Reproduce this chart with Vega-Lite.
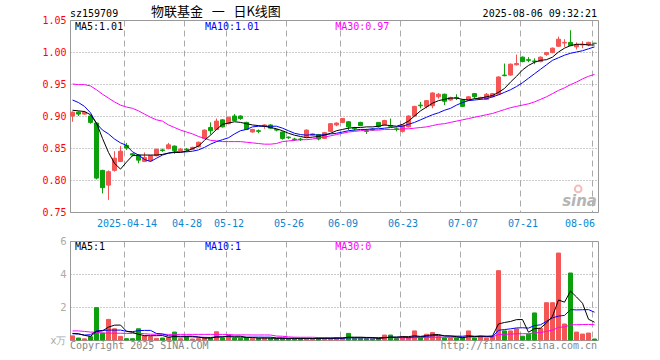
{
  "$schema": "https://vega.github.io/schema/vega-lite/v6.json",
  "autosize": {"type": "none"},
  "padding": {"left": 70, "top": 20, "right": 590, "bottom": 340},
  "background": "white",
  "bounds": "flush",
  "spacing": 29,
  "config": {
    "view": {"stroke": "#999999", "strokeWidth": 1},
    "axis": {"labelFont": "DejaVu Sans Mono", "labelFontSize": 10, "domain": false, "ticks": false, "title": null},
    "axisY": {"grid": true, "gridColor": "#999999", "gridDash": [1, 2], "gridWidth": 1, "labelPadding": 4, "labelOverlap": false, "tickCount": 12}
  },
  "datasets": {
    "k": [
      {"d":"2025-03-31","o":0.900,"h":0.907,"l":0.891,"c":0.906,"v":0.25,"m5":0.909,"m10":0.925,"m30":0.950,"vm5":0.40,"vm10":0.38,"vm30":0.55},
      {"d":"2025-04-01","o":0.906,"h":0.907,"l":0.900,"c":0.903,"v":0.12,"m5":0.908,"m10":0.921,"m30":0.949,"vm5":0.38,"vm10":0.36,"vm30":0.55},
      {"d":"2025-04-02","o":0.903,"h":0.908,"l":0.902,"c":0.906,"v":0.07,"m5":0.907,"m10":0.915,"m30":0.949,"vm5":0.28,"vm10":0.30,"vm30":0.52},
      {"d":"2025-04-03","o":0.900,"h":0.901,"l":0.888,"c":0.890,"v":0.20,"m5":0.902,"m10":0.905,"m30":0.947,"vm5":0.22,"vm10":0.32,"vm30":0.48},
      {"d":"2025-04-07","o":0.889,"h":0.889,"l":0.801,"c":0.803,"v":1.96,"m5":0.889,"m10":0.888,"m30":0.941,"vm5":0.52,"vm10":0.55,"vm30":0.47},
      {"d":"2025-04-08","o":0.815,"h":0.816,"l":0.779,"c":0.788,"v":0.42,"m5":0.865,"m10":0.878,"m30":0.934,"vm5":0.554,"vm10":0.58,"vm30":0.42},
      {"d":"2025-04-09","o":0.792,"h":0.815,"l":0.769,"c":0.813,"v":1.25,"m5":0.843,"m10":0.872,"m30":0.928,"vm5":0.78,"vm10":0.60,"vm30":0.42},
      {"d":"2025-04-10","o":0.815,"h":0.845,"l":0.813,"c":0.834,"v":0.68,"m5":0.826,"m10":0.864,"m30":0.922,"vm5":0.90,"vm10":0.60,"vm30":0.41},
      {"d":"2025-04-11","o":0.829,"h":0.853,"l":0.828,"c":0.845,"v":0.22,"m5":0.817,"m10":0.858,"m30":0.917,"vm5":0.906,"vm10":0.60,"vm30":0.41},
      {"d":"2025-04-14","o":0.854,"h":0.858,"l":0.847,"c":0.850,"v":0.08,"m5":0.828,"m10":0.854,"m30":0.914,"vm5":0.53,"vm10":0.525,"vm30":0.40},
      {"d":"2025-04-15","o":0.841,"h":0.842,"l":0.837,"c":0.839,"v":0.08,"m5":0.838,"m10":0.844,"m30":0.912,"vm5":0.462,"vm10":0.508,"vm30":0.40},
      {"d":"2025-04-16","o":0.839,"h":0.840,"l":0.826,"c":0.831,"v":0.68,"m5":0.839,"m10":0.839,"m30":0.908,"vm5":0.348,"vm10":0.564,"vm30":0.40},
      {"d":"2025-04-17","o":0.829,"h":0.843,"l":0.828,"c":0.835,"v":0.25,"m5":0.839,"m10":0.832,"m30":0.903,"vm5":0.262,"vm10":0.582,"vm30":0.38},
      {"d":"2025-04-18","o":0.830,"h":0.839,"l":0.829,"c":0.838,"v":0.20,"m5":0.839,"m10":0.829,"m30":0.898,"vm5":0.258,"vm10":0.582,"vm30":0.35},
      {"d":"2025-04-21","o":0.838,"h":0.849,"l":0.837,"c":0.848,"v":0.10,"m5":0.839,"m10":0.834,"m30":0.894,"vm5":0.262,"vm10":0.396,"vm30":0.35},
      {"d":"2025-04-22","o":0.847,"h":0.849,"l":0.844,"c":0.846,"v":0.12,"m5":0.840,"m10":0.839,"m30":0.892,"vm5":0.27,"vm10":0.366,"vm30":0.35},
      {"d":"2025-04-23","o":0.849,"h":0.858,"l":0.848,"c":0.855,"v":0.15,"m5":0.842,"m10":0.842,"m30":0.886,"vm5":0.164,"vm10":0.256,"vm30":0.34},
      {"d":"2025-04-24","o":0.853,"h":0.854,"l":0.841,"c":0.846,"v":0.48,"m5":0.843,"m10":0.844,"m30":0.882,"vm5":0.21,"vm10":0.236,"vm30":0.34},
      {"d":"2025-04-25","o":0.846,"h":0.850,"l":0.845,"c":0.848,"v":0.08,"m5":0.843,"m10":0.844,"m30":0.878,"vm5":0.186,"vm10":0.222,"vm30":0.34},
      {"d":"2025-04-28","o":0.848,"h":0.850,"l":0.845,"c":0.847,"v":0.20,"m5":0.845,"m10":0.844,"m30":0.875,"vm5":0.206,"vm10":0.234,"vm30":0.34},
      {"d":"2025-04-29","o":0.848,"h":0.852,"l":0.847,"c":0.851,"v":0.06,"m5":0.849,"m10":0.845,"m30":0.872,"vm5":0.194,"vm10":0.232,"vm30":0.34},
      {"d":"2025-04-30","o":0.852,"h":0.860,"l":0.851,"c":0.859,"v":0.08,"m5":0.853,"m10":0.847,"m30":0.868,"vm5":0.18,"vm10":0.172,"vm30":0.34},
      {"d":"2025-05-06","o":0.865,"h":0.879,"l":0.864,"c":0.878,"v":0.15,"m5":0.862,"m10":0.851,"m30":0.865,"vm5":0.114,"vm10":0.162,"vm30":0.34},
      {"d":"2025-05-07","o":0.882,"h":0.890,"l":0.871,"c":0.877,"v":0.10,"m5":0.870,"m10":0.856,"m30":0.862,"vm5":0.118,"vm10":0.152,"vm30":0.34},
      {"d":"2025-05-08","o":0.879,"h":0.896,"l":0.878,"c":0.892,"v":0.50,"m5":0.879,"m10":0.860,"m30":0.861,"vm5":0.178,"vm10":0.192,"vm30":0.34},
      {"d":"2025-05-09","o":0.894,"h":0.895,"l":0.882,"c":0.883,"v":0.12,"m5":0.887,"m10":0.863,"m30":0.860,"vm5":0.19,"vm10":0.192,"vm30":0.34},
      {"d":"2025-05-12","o":0.888,"h":0.899,"l":0.887,"c":0.898,"v":0.30,"m5":0.889,"m10":0.866,"m30":0.860,"vm5":0.234,"vm10":0.207,"vm30":0.33},
      {"d":"2025-05-13","o":0.900,"h":0.903,"l":0.892,"c":0.893,"v":0.12,"m5":0.891,"m10":0.872,"m30":0.860,"vm5":0.228,"vm10":0.171,"vm30":0.31},
      {"d":"2025-05-14","o":0.900,"h":0.901,"l":0.894,"c":0.896,"v":0.10,"m5":0.890,"m10":0.877,"m30":0.860,"vm5":0.228,"vm10":0.173,"vm30":0.31},
      {"d":"2025-05-15","o":0.890,"h":0.891,"l":0.878,"c":0.879,"v":0.15,"m5":0.888,"m10":0.879,"m30":0.859,"vm5":0.158,"vm10":0.168,"vm30":0.309},
      {"d":"2025-05-16","o":0.875,"h":0.880,"l":0.874,"c":0.879,"v":0.10,"m5":0.886,"m10":0.883,"m30":0.858,"vm5":0.154,"vm10":0.172,"vm30":0.304},
      {"d":"2025-05-19","o":0.877,"h":0.879,"l":0.873,"c":0.876,"v":0.10,"m5":0.885,"m10":0.884,"m30":0.857,"vm5":0.114,"vm10":0.174,"vm30":0.303},
      {"d":"2025-05-20","o":0.884,"h":0.887,"l":0.880,"c":0.886,"v":0.12,"m5":0.884,"m10":0.884,"m30":0.856,"vm5":0.114,"vm10":0.171,"vm30":0.305},
      {"d":"2025-05-21","o":0.886,"h":0.887,"l":0.880,"c":0.881,"v":0.10,"m5":0.882,"m10":0.884,"m30":0.856,"vm5":0.114,"vm10":0.171,"vm30":0.302},
      {"d":"2025-05-22","o":0.879,"h":0.880,"l":0.876,"c":0.878,"v":0.08,"m5":0.880,"m10":0.884,"m30":0.857,"vm5":0.10,"vm10":0.129,"vm30":0.239},
      {"d":"2025-05-23","o":0.875,"h":0.876,"l":0.863,"c":0.865,"v":0.10,"m5":0.877,"m10":0.881,"m30":0.860,"vm5":0.10,"vm10":0.127,"vm30":0.228},
      {"d":"2025-05-26","o":0.867,"h":0.868,"l":0.864,"c":0.866,"v":0.08,"m5":0.873,"m10":0.877,"m30":0.861,"vm5":0.096,"vm10":0.105,"vm30":0.189},
      {"d":"2025-05-27","o":0.864,"h":0.866,"l":0.861,"c":0.863,"v":0.10,"m5":0.870,"m10":0.873,"m30":0.862,"vm5":0.092,"vm10":0.103,"vm30":0.17},
      {"d":"2025-05-28","o":0.864,"h":0.866,"l":0.861,"c":0.863,"v":0.08,"m5":0.868,"m10":0.871,"m30":0.863,"vm5":0.088,"vm10":0.101,"vm30":0.165},
      {"d":"2025-05-29","o":0.867,"h":0.879,"l":0.866,"c":0.878,"v":0.10,"m5":0.866,"m10":0.870,"m30":0.863,"vm5":0.092,"vm10":0.096,"vm30":0.166},
      {"d":"2025-05-30","o":0.870,"h":0.873,"l":0.869,"c":0.872,"v":0.08,"m5":0.867,"m10":0.871,"m30":0.864,"vm5":0.088,"vm10":0.094,"vm30":0.166},
      {"d":"2025-06-03","o":0.871,"h":0.872,"l":0.862,"c":0.864,"v":0.12,"m5":0.868,"m10":0.870,"m30":0.866,"vm5":0.096,"vm10":0.096,"vm30":0.147},
      {"d":"2025-06-04","o":0.865,"h":0.875,"l":0.864,"c":0.874,"v":0.12,"m5":0.870,"m10":0.871,"m30":0.867,"vm5":0.10,"vm10":0.096,"vm30":0.143},
      {"d":"2025-06-05","o":0.876,"h":0.889,"l":0.875,"c":0.888,"v":0.10,"m5":0.873,"m10":0.872,"m30":0.869,"vm5":0.104,"vm10":0.096,"vm30":0.14},
      {"d":"2025-06-06","o":0.886,"h":0.890,"l":0.884,"c":0.889,"v":0.15,"m5":0.877,"m10":0.873,"m30":0.871,"vm5":0.114,"vm10":0.103,"vm30":0.141},
      {"d":"2025-06-09","o":0.890,"h":0.897,"l":0.889,"c":0.896,"v":0.10,"m5":0.879,"m10":0.875,"m30":0.873,"vm5":0.118,"vm10":0.103,"vm30":0.141},
      {"d":"2025-06-10","o":0.891,"h":0.892,"l":0.878,"c":0.883,"v":0.40,"m5":0.881,"m10":0.877,"m30":0.875,"vm5":0.174,"vm10":0.135,"vm30":0.149},
      {"d":"2025-06-11","o":0.881,"h":0.883,"l":0.877,"c":0.880,"v":0.10,"m5":0.882,"m10":0.878,"m30":0.876,"vm5":0.17,"vm10":0.135,"vm30":0.136},
      {"d":"2025-06-12","o":0.890,"h":0.891,"l":0.884,"c":0.885,"v":0.10,"m5":0.882,"m10":0.879,"m30":0.877,"vm5":0.17,"vm10":0.137,"vm30":0.137},
      {"d":"2025-06-13","o":0.877,"h":0.880,"l":0.872,"c":0.876,"v":0.08,"m5":0.883,"m10":0.879,"m30":0.878,"vm5":0.156,"vm10":0.135,"vm30":0.133},
      {"d":"2025-06-16","o":0.879,"h":0.881,"l":0.877,"c":0.878,"v":0.08,"m5":0.883,"m10":0.880,"m30":0.878,"vm5":0.152,"vm10":0.135,"vm30":0.134},
      {"d":"2025-06-17","o":0.890,"h":0.890,"l":0.882,"c":0.883,"v":0.10,"m5":0.884,"m10":0.880,"m30":0.878,"vm5":0.092,"vm10":0.133,"vm30":0.134},
      {"d":"2025-06-18","o":0.886,"h":0.894,"l":0.885,"c":0.893,"v":0.30,"m5":0.886,"m10":0.881,"m30":0.879,"vm5":0.132,"vm10":0.151,"vm30":0.139},
      {"d":"2025-06-19","o":0.885,"h":0.896,"l":0.883,"c":0.884,"v":0.30,"m5":0.885,"m10":0.882,"m30":0.879,"vm5":0.172,"vm10":0.171,"vm30":0.146},
      {"d":"2025-06-20","o":0.880,"h":0.882,"l":0.876,"c":0.879,"v":0.10,"m5":0.884,"m10":0.883,"m30":0.879,"vm5":0.176,"vm10":0.166,"vm30":0.133},
      {"d":"2025-06-23","o":0.876,"h":0.887,"l":0.874,"c":0.886,"v":0.20,"m5":0.887,"m10":0.884,"m30":0.880,"vm5":0.20,"vm10":0.176,"vm30":0.135},
      {"d":"2025-06-24","o":0.883,"h":0.901,"l":0.882,"c":0.900,"v":0.12,"m5":0.892,"m10":0.887,"m30":0.880,"vm5":0.204,"vm10":0.148,"vm30":0.129},
      {"d":"2025-06-25","o":0.900,"h":0.916,"l":0.899,"c":0.915,"v":0.55,"m5":0.900,"m10":0.890,"m30":0.881,"vm5":0.254,"vm10":0.193,"vm30":0.144},
      {"d":"2025-06-26","o":0.917,"h":0.922,"l":0.912,"c":0.916,"v":0.12,"m5":0.908,"m10":0.894,"m30":0.882,"vm5":0.218,"vm10":0.195,"vm30":0.144},
      {"d":"2025-06-27","o":0.915,"h":0.925,"l":0.912,"c":0.924,"v":0.35,"m5":0.914,"m10":0.898,"m30":0.883,"vm5":0.268,"vm10":0.222,"vm30":0.151},
      {"d":"2025-06-30","o":0.916,"h":0.937,"l":0.912,"c":0.936,"v":0.45,"m5":0.920,"m10":0.902,"m30":0.885,"vm5":0.318,"vm10":0.259,"vm30":0.163},
      {"d":"2025-07-01","o":0.930,"h":0.936,"l":0.927,"c":0.934,"v":0.20,"m5":0.924,"m10":0.905,"m30":0.887,"vm5":0.334,"vm10":0.269,"vm30":0.166},
      {"d":"2025-07-02","o":0.934,"h":0.935,"l":0.917,"c":0.923,"v":0.12,"m5":0.926,"m10":0.909,"m30":0.888,"vm5":0.248,"vm10":0.251,"vm30":0.166},
      {"d":"2025-07-03","o":0.925,"h":0.930,"l":0.924,"c":0.929,"v":0.12,"m5":0.928,"m10":0.912,"m30":0.890,"vm5":0.248,"vm10":0.233,"vm30":0.167},
      {"d":"2025-07-04","o":0.929,"h":0.934,"l":0.925,"c":0.928,"v":0.12,"m5":0.928,"m10":0.917,"m30":0.892,"vm5":0.202,"vm10":0.235,"vm30":0.168},
      {"d":"2025-07-07","o":0.925,"h":0.926,"l":0.914,"c":0.915,"v":0.12,"m5":0.926,"m10":0.921,"m30":0.894,"vm5":0.136,"vm10":0.227,"vm30":0.169},
      {"d":"2025-07-08","o":0.925,"h":0.931,"l":0.924,"c":0.930,"v":0.55,"m5":0.925,"m10":0.924,"m30":0.896,"vm5":0.206,"vm10":0.27,"vm30":0.184},
      {"d":"2025-07-09","o":0.935,"h":0.936,"l":0.927,"c":0.930,"v":0.12,"m5":0.927,"m10":0.925,"m30":0.898,"vm5":0.206,"vm10":0.227,"vm30":0.185},
      {"d":"2025-07-10","o":0.927,"h":0.930,"l":0.925,"c":0.929,"v":0.23,"m5":0.928,"m10":0.926,"m30":0.900,"vm5":0.228,"vm10":0.238,"vm30":0.19},
      {"d":"2025-07-11","o":0.926,"h":0.936,"l":0.925,"c":0.934,"v":0.12,"m5":0.930,"m10":0.927,"m30":0.902,"vm5":0.228,"vm10":0.215,"vm30":0.191},
      {"d":"2025-07-14","o":0.930,"h":0.936,"l":0.929,"c":0.935,"v":0.20,"m5":0.932,"m10":0.930,"m30":0.904,"vm5":0.244,"vm10":0.19,"vm30":0.195},
      {"d":"2025-07-15","o":0.934,"h":0.962,"l":0.933,"c":0.961,"v":4.20,"m5":0.937,"m10":0.933,"m30":0.907,"vm5":0.974,"vm10":0.59,"vm30":0.331},
      {"d":"2025-07-16","o":0.964,"h":0.982,"l":0.962,"c":0.963,"v":0.55,"m5":0.943,"m10":0.937,"m30":0.910,"vm5":1.06,"vm10":0.633,"vm30":0.345},
      {"d":"2025-07-17","o":0.964,"h":0.982,"l":0.963,"c":0.981,"v":0.55,"m5":0.953,"m10":0.941,"m30":0.913,"vm5":1.124,"vm10":0.676,"vm30":0.36},
      {"d":"2025-07-18","o":0.980,"h":0.996,"l":0.979,"c":0.982,"v":0.67,"m5":0.962,"m10":0.946,"m30":0.915,"vm5":1.234,"vm10":0.731,"vm30":0.377},
      {"d":"2025-07-21","o":0.992,"h":0.993,"l":0.984,"c":0.985,"v":0.23,"m5":0.972,"m10":0.952,"m30":0.917,"vm5":1.24,"vm10":0.742,"vm30":0.382},
      {"d":"2025-07-22","o":0.988,"h":0.992,"l":0.984,"c":0.987,"v":0.35,"m5":0.979,"m10":0.959,"m30":0.919,"vm5":0.47,"vm10":0.722,"vm30":0.38},
      {"d":"2025-07-23","o":0.986,"h":0.990,"l":0.981,"c":0.985,"v":1.64,"m5":0.984,"m10":0.966,"m30":0.922,"vm5":0.688,"vm10":0.874,"vm30":0.431},
      {"d":"2025-07-24","o":0.985,"h":0.993,"l":0.984,"c":0.992,"v":0.70,"m5":0.987,"m10":0.973,"m30":0.926,"vm5":0.718,"vm10":0.921,"vm30":0.451},
      {"d":"2025-07-25","o":0.996,"h":1.000,"l":0.994,"c":0.999,"v":2.26,"m5":0.988,"m10":0.980,"m30":0.930,"vm5":1.036,"vm10":1.135,"vm30":0.524},
      {"d":"2025-07-28","o":0.999,"h":1.007,"l":0.998,"c":1.006,"v":2.26,"m5":0.992,"m10":0.987,"m30":0.935,"vm5":1.442,"vm10":1.341,"vm30":0.597},
      {"d":"2025-07-29","o":1.009,"h":1.024,"l":1.008,"c":1.020,"v":5.27,"m5":1.000,"m10":0.991,"m30":0.940,"vm5":2.426,"vm10":1.448,"vm30":0.769},
      {"d":"2025-07-30","o":1.014,"h":1.020,"l":1.008,"c":1.015,"v":0.97,"m5":1.006,"m10":0.995,"m30":0.944,"vm5":2.292,"vm10":1.49,"vm30":0.791},
      {"d":"2025-07-31","o":1.015,"h":1.034,"l":1.009,"c":1.010,"v":4.06,"m5":1.010,"m10":0.998,"m30":0.949,"vm5":2.964,"vm10":1.841,"vm30":0.917},
      {"d":"2025-08-01","o":1.008,"h":1.015,"l":1.004,"c":1.012,"v":0.48,"m5":1.012,"m10":1.000,"m30":0.953,"vm5":2.608,"vm10":1.822,"vm30":0.929},
      {"d":"2025-08-04","o":1.011,"h":1.017,"l":1.006,"c":1.012,"v":0.36,"m5":1.012,"m10":1.002,"m30":0.958,"vm5":2.228,"vm10":1.835,"vm30":0.935},
      {"d":"2025-08-05","o":1.011,"h":1.016,"l":1.009,"c":1.015,"v":0.42,"m5":1.011,"m10":1.005,"m30":0.962,"vm5":1.258,"vm10":1.842,"vm30":0.945},
      {"d":"2025-08-06","o":1.0137,"h":1.0137,"l":1.0135,"c":1.0135,"v":0.06,"m5":1.011,"m10":1.008,"m30":0.965,"vm5":1.076,"vm10":1.684,"vm30":0.928}
    ]
  },
  "vconcat": [
    {
      "width": 528,
      "height": 192,
      "data": {"name": "k"},
      "layer": [
        {
          "mark": {"type": "rule", "xOffset": -0.5, "strokeWidth": 1},
          "encoding": {
            "x": {
              "field": "d", "type": "ordinal",
              "scale": {"paddingInner": 0, "paddingOuter": 0},
              "axis": {
                "values": ["2025-04-14","2025-04-28","2025-05-12","2025-05-26","2025-06-09","2025-06-23","2025-07-07","2025-07-21","2025-08-06"],
                "bandPosition": 0,
                "grid": true, "gridColor": "#aaaaaa", "gridDash": [6, 4], "gridWidth": 1,
                "labelAngle": 0, "labelColor": "#0b86d1", "labelPadding": 6,
                "labelExpr": "datum.value == '2025-04-14' ? datum.value : substring(datum.value, 5)",
                "labelAlign": {"condition": {"test": "datum.value == '2025-08-06'", "value": "right"}, "value": "center"}
              }
            },
            "y": {
              "field": "l", "type": "quantitative",
              "scale": {"domain": [0.75, 1.05], "nice": false, "zero": false},
              "axis": {
                "values": [0.75, 0.8, 0.85, 0.9, 0.95, 1.0, 1.05], "tickCount": 12,
                "format": ".2f", "labelColor": "#ff0000", "labelOverlap": false
              }
            },
            "y2": {"field": "h"},
            "color": {"condition": {"test": "datum.c >= datum.o", "value": "#f45656"}, "value": "#0da00d"}
          }
        },
        {
          "mark": {"type": "bar", "size": 4, "xOffset": -0.5, "strokeWidth": 1},
          "encoding": {
            "x": {"field": "d", "type": "ordinal"},
            "y": {"field": "o", "type": "quantitative"},
            "y2": {"field": "c"},
            "fill": {"condition": {"test": "datum.c >= datum.o", "value": "#f45656"}, "value": "#0da00d"},
            "stroke": {"condition": {"test": "datum.c >= datum.o", "value": "#f45656"}, "value": "#0da00d"}
          }
        },
        {
          "mark": {"type": "line", "color": "#ff00ff", "strokeWidth": 1, "xOffset": -0.5},
          "encoding": {"x": {"field": "d", "type": "ordinal"}, "y": {"field": "m30", "type": "quantitative"}}
        },
        {
          "mark": {"type": "line", "color": "#0000ff", "strokeWidth": 1, "xOffset": -0.5},
          "encoding": {"x": {"field": "d", "type": "ordinal"}, "y": {"field": "m10", "type": "quantitative"}}
        },
        {
          "mark": {"type": "line", "color": "#000000", "strokeWidth": 1, "xOffset": -0.5},
          "encoding": {"x": {"field": "d", "type": "ordinal"}, "y": {"field": "m5", "type": "quantitative"}}
        },
        {
          "data": {"values": [{"t": "sz159709"}]},
          "mark": {"type": "text", "align": "left", "baseline": "alphabetic", "dy": -3, "font": "DejaVu Sans Mono", "fontSize": 10, "color": "#000000"},
          "encoding": {"x": {"datum": "2025-03-31", "type": "ordinal", "bandPosition": 0}, "y": {"datum": 1.05, "type": "quantitative"}, "text": {"field": "t"}}
        },
        {
          "data": {"values": [{"t": "物联基金\u00a0\u00a0\u00a0一\u00a0\u00a0\u00a0日K线图"}]},
          "mark": {"type": "text", "align": "left", "baseline": "alphabetic", "dy": -4, "font": "Noto Sans CJK SC", "fontSize": 13, "color": "#000000"},
          "encoding": {"x": {"datum": "2025-04-18", "type": "ordinal", "bandPosition": 0.5}, "y": {"datum": 1.05, "type": "quantitative"}, "text": {"field": "t"}}
        },
        {
          "data": {"values": [{"t": "2025-08-06 09:32:21"}]},
          "mark": {"type": "text", "align": "right", "baseline": "alphabetic", "dy": -3, "dx": -1, "font": "DejaVu Sans Mono", "fontSize": 10, "color": "#000000"},
          "encoding": {"x": {"datum": "2025-08-06", "type": "ordinal", "bandPosition": 1}, "y": {"datum": 1.05, "type": "quantitative"}, "text": {"field": "t"}}
        },
        {
          "data": {"values": [{"t": "MA5:1.01"}]},
          "mark": {"type": "text", "align": "left", "baseline": "alphabetic", "dy": 10, "dx": 5, "font": "DejaVu Sans Mono", "fontSize": 10, "color": "#000000"},
          "encoding": {"x": {"datum": "2025-03-31", "type": "ordinal", "bandPosition": 0}, "y": {"datum": 1.05, "type": "quantitative"}, "text": {"field": "t"}}
        },
        {
          "data": {"values": [{"t": "MA10:1.01"}]},
          "mark": {"type": "text", "align": "left", "baseline": "alphabetic", "dy": 10, "font": "DejaVu Sans Mono", "fontSize": 10, "color": "#0000ff"},
          "encoding": {"x": {"datum": "2025-05-06", "type": "ordinal", "bandPosition": 0.5}, "y": {"datum": 1.05, "type": "quantitative"}, "text": {"field": "t"}}
        },
        {
          "data": {"values": [{"t": "MA30:0.97"}]},
          "mark": {"type": "text", "align": "left", "baseline": "alphabetic", "dy": 10, "font": "DejaVu Sans Mono", "fontSize": 10, "color": "#ff00ff"},
          "encoding": {"x": {"datum": "2025-06-06", "type": "ordinal", "bandPosition": 0.2}, "y": {"datum": 1.05, "type": "quantitative"}, "text": {"field": "t"}}
        },
        {
          "data": {"values": [{"t": "sina"}]},
          "mark": {"type": "text", "align": "right", "baseline": "alphabetic", "dy": -6, "dx": -1, "font": "DejaVu Sans", "fontSize": 15, "fontStyle": "italic", "fontWeight": "bold", "color": "#b5b5b5"},
          "encoding": {"x": {"datum": "2025-08-06", "type": "ordinal", "bandPosition": 1}, "y": {"datum": 0.75, "type": "quantitative"}, "text": {"field": "t"}}
        },
        {
          "data": {"values": [{"t": "logo"}]},
          "mark": {"type": "point", "shape": "circle", "size": 45, "filled": false, "stroke": "#f2a0a0", "strokeWidth": 2},
          "encoding": {"x": {"datum": "2025-08-01", "type": "ordinal", "bandPosition": 0.7}, "y": {"datum": 0.786, "type": "quantitative"}}
        }
      ]
    },
    {
      "width": 528,
      "height": 99,
      "data": {"name": "k"},
      "layer": [
        {
          "mark": {"type": "bar", "size": 4, "xOffset": -0.5, "strokeWidth": 1},
          "encoding": {
            "x": {
              "field": "d", "type": "ordinal",
              "scale": {"paddingInner": 0, "paddingOuter": 0},
              "axis": {
                "values": ["2025-04-14","2025-04-28","2025-05-12","2025-05-26","2025-06-09","2025-06-23","2025-07-07","2025-07-21","2025-08-06"],
                "bandPosition": 0, "labels": false,
                "grid": true, "gridColor": "#aaaaaa", "gridDash": [6, 4], "gridWidth": 1
              }
            },
            "y": {
              "field": "v", "type": "quantitative",
              "scale": {"domain": [0, 6], "nice": false},
              "axis": {
                "values": [0, 2, 4, 6], "tickCount": 12, "format": "d", "labelColor": "#aaaaaa", "labelOverlap": false, "labelFont": "DejaVu Sans",
                "labelExpr": "datum.value == 0 ? 'x万' : datum.label"
              }
            },
            "fill": {"condition": {"test": "datum.c >= datum.o", "value": "#f45656"}, "value": "#0da00d"},
            "stroke": {"condition": {"test": "datum.c >= datum.o", "value": "#f45656"}, "value": "#0da00d"}
          }
        },
        {
          "mark": {"type": "line", "color": "#ff00ff", "strokeWidth": 1, "xOffset": -0.5},
          "encoding": {"x": {"field": "d", "type": "ordinal"}, "y": {"field": "vm30", "type": "quantitative"}}
        },
        {
          "mark": {"type": "line", "color": "#0000ff", "strokeWidth": 1, "xOffset": -0.5},
          "encoding": {"x": {"field": "d", "type": "ordinal"}, "y": {"field": "vm10", "type": "quantitative"}}
        },
        {
          "mark": {"type": "line", "color": "#000000", "strokeWidth": 1, "xOffset": -0.5},
          "encoding": {"x": {"field": "d", "type": "ordinal"}, "y": {"field": "vm5", "type": "quantitative"}}
        },
        {
          "data": {"values": [{"t": "MA5:1"}]},
          "mark": {"type": "text", "align": "left", "baseline": "alphabetic", "dy": 9, "dx": 5, "font": "DejaVu Sans Mono", "fontSize": 10, "color": "#000000"},
          "encoding": {"x": {"datum": "2025-03-31", "type": "ordinal", "bandPosition": 0}, "y": {"datum": 6, "type": "quantitative"}, "text": {"field": "t"}}
        },
        {
          "data": {"values": [{"t": "MA10:1"}]},
          "mark": {"type": "text", "align": "left", "baseline": "alphabetic", "dy": 9, "font": "DejaVu Sans Mono", "fontSize": 10, "color": "#0000ff"},
          "encoding": {"x": {"datum": "2025-05-06", "type": "ordinal", "bandPosition": 0.5}, "y": {"datum": 6, "type": "quantitative"}, "text": {"field": "t"}}
        },
        {
          "data": {"values": [{"t": "MA30:0"}]},
          "mark": {"type": "text", "align": "left", "baseline": "alphabetic", "dy": 9, "font": "DejaVu Sans Mono", "fontSize": 10, "color": "#ff00ff"},
          "encoding": {"x": {"datum": "2025-06-06", "type": "ordinal", "bandPosition": 0.2}, "y": {"datum": 6, "type": "quantitative"}, "text": {"field": "t"}}
        },
        {
          "data": {"values": [{"t": "Copyright 2025 SINA.COM"}]},
          "mark": {"type": "text", "align": "left", "baseline": "alphabetic", "dy": 9, "font": "DejaVu Sans Mono", "fontSize": 10, "color": "#888888"},
          "encoding": {"x": {"datum": "2025-03-31", "type": "ordinal", "bandPosition": 0}, "y": {"datum": 0, "type": "quantitative"}, "text": {"field": "t"}}
        },
        {
          "data": {"values": [{"t": "http://finance.sina.com.cn"}]},
          "mark": {"type": "text", "align": "right", "baseline": "alphabetic", "dy": 9, "dx": -1, "font": "DejaVu Sans Mono", "fontSize": 10, "color": "#888888"},
          "encoding": {"x": {"datum": "2025-08-06", "type": "ordinal", "bandPosition": 1}, "y": {"datum": 0, "type": "quantitative"}, "text": {"field": "t"}}
        }
      ]
    }
  ]
}
